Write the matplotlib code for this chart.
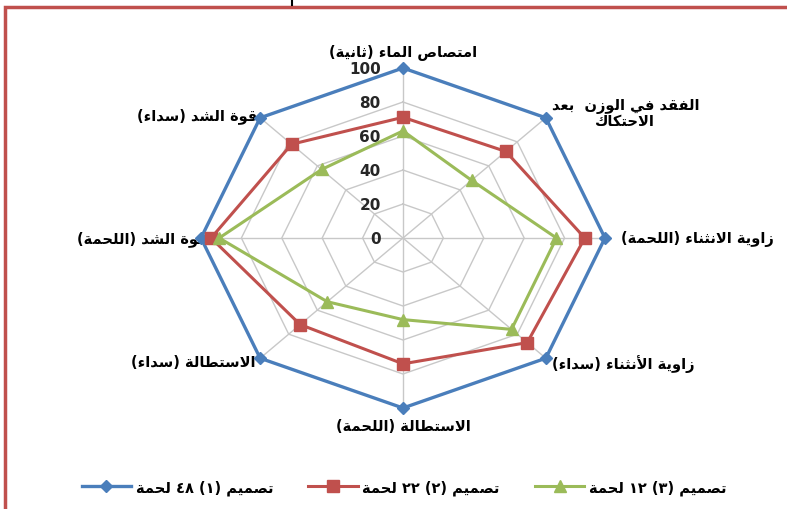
import re
import numpy as np
import matplotlib
matplotlib.use('Agg')
import matplotlib.pyplot as plt
from matplotlib.patches import Rectangle
from matplotlib.lines import Line2D

# Chart data
categories = [
    'امتصاص الماء (ثانية)',
    'الفقد في الوزن  بعد\nالاحتكاك',
    'زاوية الانثناء (اللحمة)',
    'زاوية الأنثناء (سداء)',
    'الاستطالة (اللحمة)',
    'الاستطالة (سداء)',
    'قوة الشد (اللحمة)',
    'قوة الشد (سداء)',
]
design1 = [100, 100, 100, 100, 100, 100, 100, 100]
design2 = [71, 72, 90, 87, 74, 72, 95, 78]
design3 = [63, 48, 76, 76, 48, 53, 91, 57]
series_names = ['تصميم (١) ٤٨ لحمة', 'تصميم (٢) ٢٢ لحمة', 'تصميم (٣) ١٢ لحمة']
ticks = [0, 20, 40, 60, 80, 100]

# --- tiny arabic shaper: matplotlib has no bidi / joining support ---
DUAL = {'ب': 0xFE8F, 'ت': 0xFE95, 'ث': 0xFE99, 'ح': 0xFEA1, 'س': 0xFEB1,
        'ش': 0xFEB5, 'ص': 0xFEB9, 'ط': 0xFEC1, 'ع': 0xFEC9, 'ف': 0xFED1,
        'ق': 0xFED5, 'ك': 0xFED9, 'ل': 0xFEDD, 'م': 0xFEE1, 'ن': 0xFEE5,
        'ي': 0xFEF1}
RIGHT = {'أ': 0xFE83, 'ا': 0xFE8D, 'ة': 0xFE93, 'د': 0xFEA9, 'ز': 0xFEAF,
         'و': 0xFEED}
LIG = {'لا': 0xFEFB, 'لأ': 0xFEF7}
NONJOIN = {'ء': 0xFE80}


def shape_line(text):
    tokens = []
    i = 0
    while i < len(text):
        if text[i] == 'ل' and i + 1 < len(text) and text[i + 1] in 'اأ':
            tokens.append(text[i:i + 2])
            i += 2
        else:
            tokens.append(text[i])
            i += 1
    out = []
    for k, t in enumerate(tokens):
        prev = tokens[k - 1] if k > 0 else None
        nxt = tokens[k + 1] if k + 1 < len(tokens) else None
        jp = prev in DUAL
        jn = nxt is not None and (nxt in DUAL or nxt in RIGHT or nxt in LIG)
        if t in LIG:
            out.append(chr(LIG[t] + (1 if jp else 0)))
        elif t in DUAL:
            if jp and jn:
                out.append(chr(DUAL[t] + 3))
            elif jn:
                out.append(chr(DUAL[t] + 2))
            elif jp:
                out.append(chr(DUAL[t] + 1))
            else:
                out.append(chr(DUAL[t]))
        elif t in RIGHT:
            out.append(chr(RIGHT[t] + (1 if jp else 0)))
        elif t in NONJOIN:
            out.append(chr(NONJOIN[t]))
        else:
            out.append(t)
    vis = ''.join(out)[::-1]
    vis = vis.translate(str.maketrans('()', ')('))
    vis = re.sub(r'[0-9\u0660-\u0669]+', lambda m: m.group(0)[::-1], vis)
    return vis


def ar(text):
    return '\n'.join(shape_line(s) for s in text.split('\n'))


plt.rcParams['font.family'] = ['DejaVu Sans']

fig = plt.figure(figsize=(7.87, 5.10), dpi=100)
ax = fig.add_axes([0.0244, 0.048, 0.9753, 0.9667])
ax.set_xlim(-190, 190)
ax.set_ylim(-145, 145)
ax.axis('off')

n = len(categories)
theta = np.arange(n) * 2 * np.pi / n
sx, cy = np.sin(theta), np.cos(theta)

# grid octagons and spokes
grid_col = '#c8c8c8'
for lv in ticks[1:]:
    ax.plot(np.append(lv * sx, lv * sx[0]), np.append(lv * cy, lv * cy[0]),
            color=grid_col, lw=1, zorder=1)
for k in range(n):
    ax.plot([0, 100 * sx[k]], [0, 100 * cy[k]], color=grid_col, lw=1, zorder=1)

for lv in ticks:
    ax.text(-11, lv, str(lv), ha='right', va='center', fontsize=11,
            fontweight='bold', color='#262626')

styles = [
    (design1, '#4a7ebb', 'D', 6.5, 2.4),
    (design2, '#c0504d', 's', 9, 2.2),
    (design3, '#9bbb59', '^', 8.5, 2.2),
]
handles = []
for (vals, col, mk, ms, lw), name in zip(styles, series_names):
    v = np.array(vals, dtype=float)
    xs = np.append(v * sx, v[0] * sx[0])
    ys = np.append(v * cy, v[0] * cy[0])
    ax.plot(xs, ys, color=col, lw=lw, zorder=3)
    ax.plot(v * sx, v * cy, ls='none', marker=mk, ms=ms, color=col, zorder=4)
    handles.append(Line2D([], [], color=col, lw=lw, marker=mk, ms=ms,
                          label=ar(name)))

# category labels
label_r = [110, 104, 108, 104, 110, 103, 97, 102]
label_ha = ['center', 'left', 'left', 'left', 'center', 'right', 'right', 'right']
for k, (txt, r, ha) in enumerate(zip(categories, label_r, label_ha)):
    ax.text(r * sx[k], r * cy[k], ar(txt), ha=ha, va='center', fontsize=10.5,
            fontweight='bold', color='black', multialignment='center',
            linespacing=1.0, zorder=2)

fig.legend(handles=handles, loc='center', ncol=3, frameon=False,
           bbox_to_anchor=(404 / 787, 22 / 510),
           handlelength=3.4, columnspacing=2.4, handletextpad=0.3,
           prop={'weight': 'bold', 'size': 10.5})

# red frame around the chart (cut off at right / bottom)
fig.patches.append(Rectangle((5 / 787, -0.05), 1.2, (510 - 8) / 510 + 0.05,
                             fill=False, ec='#c0504d', lw=2.5,
                             transform=fig.transFigure))
fig.add_artist(Line2D([292 / 787, 292 / 787], [1.0, 1 - 6 / 510],
                      color='black', lw=1.5, transform=fig.transFigure))

fig.savefig('out.png', dpi=100, facecolor='white')
